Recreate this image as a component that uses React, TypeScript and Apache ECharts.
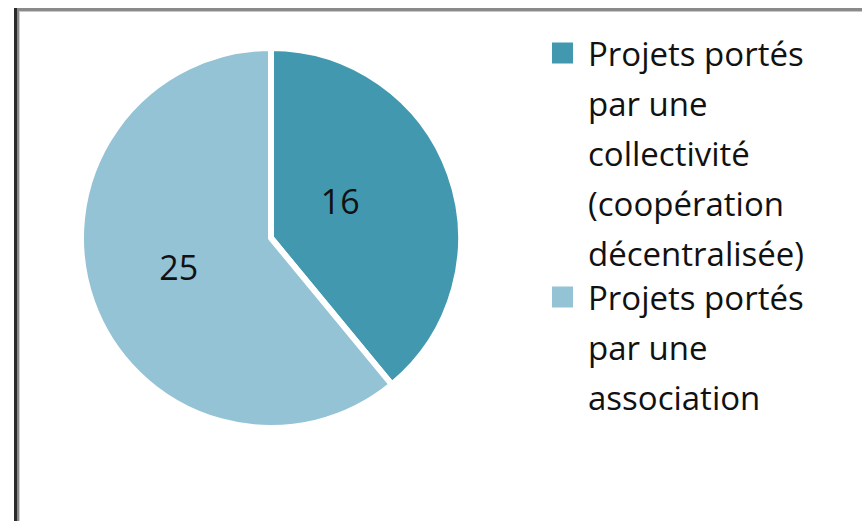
import React, { useEffect, useRef } from "react";
import * as echarts from "echarts";

const categories = [
  "Projets portés par une collectivité (coopération décentralisée)",
  "Projets portés par une association",
];
const values = [16, 25];
const colors = ["#4198AF", "#93C3D5"];
const legendLines = [
  ["Projets portés", "par une", "collectivité", "(coopération", "décentralisée)"],
  ["Projets portés", "par une", "association"],
];

export default function App() {
  const ref = useRef<HTMLDivElement>(null);
  useEffect(() => {
    document.body.style.margin = "0";
    const chart = echarts.init(ref.current!, null, { renderer: "svg" });
    const font = "'Open Sans', Lato, sans-serif";
    chart.setOption({
      animation: false,
      backgroundColor: "#ffffff",
      graphic: [
        { type: "rect", shape: { x: 14, y: 8, width: 848, height: 4 }, style: { fill: "#8a8a8a" } },
        { type: "rect", shape: { x: 14, y: 11, width: 848, height: 1 }, style: { fill: "#c8c8c8" } },
        { type: "rect", shape: { x: 14, y: 8, width: 3, height: 513 }, style: { fill: "#2a2a2a" } },
        { type: "rect", shape: { x: 17, y: 8, width: 2, height: 513 }, style: { fill: "#8a8a8a" } },
        { type: "rect", shape: { x: 19, y: 12, width: 1, height: 509 }, style: { fill: "#d0d0d0" } },
      ],
      legend: {
        orient: "vertical",
        left: 546,
        top: 28,
        padding: 0,
        itemWidth: 0,
        itemHeight: 0,
        icon: "rect",
        itemGap: -6,
        selectedMode: false,
        data: categories,
        formatter: (name: string) => {
          const idx = categories.indexOf(name);
          const lines = legendLines[idx];
          return lines
            .map((l, i) => (i === 0 ? `{s${idx}|}{t|${l}}` : `{i|}{t|${l}}`))
            .join("\n");
        },
        textStyle: {
          fontFamily: font,
          fontSize: 33,
          lineHeight: 50,
          color: "#111",
          rich: {
            s0: { width: 21, height: 21, backgroundColor: colors[0], verticalAlign: "middle", lineHeight: 50 },
            s1: { width: 21, height: 21, backgroundColor: colors[1], verticalAlign: "middle", lineHeight: 50 },
            i: { width: 21, height: 21, lineHeight: 50 },
            t: { fontFamily: font, fontSize: 33, lineHeight: 50, color: "#111", padding: [0, 0, 0, 15] },
          },
        },
      },
      series: [
        {
          type: "pie",
          center: [271, 238],
          radius: 190,
          startAngle: 90,
          clockwise: true,
          itemStyle: { borderColor: "#ffffff", borderWidth: 6 },
          label: {
            show: true,
            position: "inside",
            formatter: "{c}",
            fontFamily: font,
            fontSize: 34,
            color: "#111",
          },
          labelLine: { show: false },
          emphasis: { disabled: true },
          data: categories.map((name, i) => ({
            name,
            value: values[i],
            itemStyle: { color: colors[i] },
            label: { offset: i === 0 ? [-23, -4] : [0, -4] },
          })),
        },
      ],
    });
    return () => chart.dispose();
  }, []);
  return <div ref={ref} style={{ position: "fixed", left: 0, top: 0, width: 862, height: 521 }} />;
}
